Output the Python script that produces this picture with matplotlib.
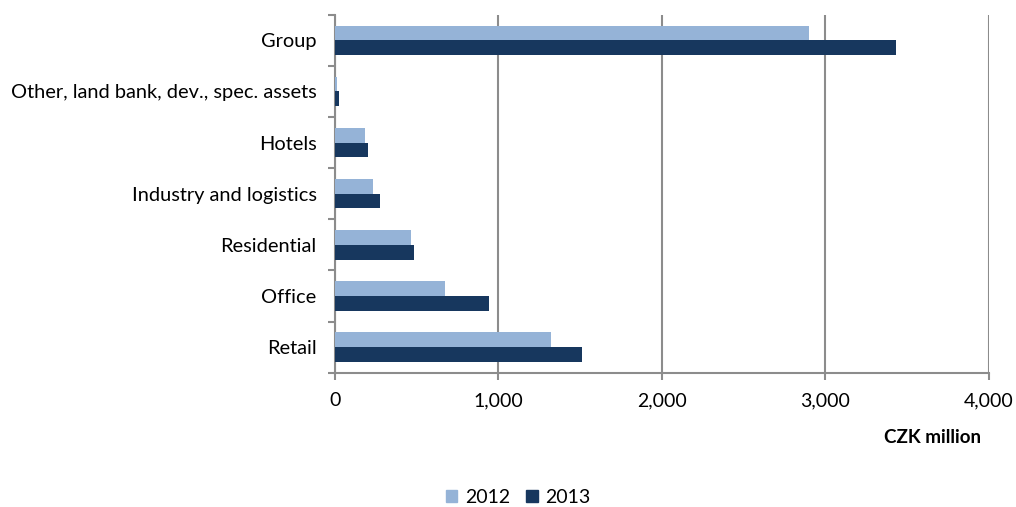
import numpy as np
from matplotlib import pyplot as plt
from matplotlib.patches import Patch

plt.rcParams['font.family'] = ['Lato', 'DejaVu Sans']

# segments listed bottom to top, as barh draws them
segments = ['Retail', 'Office', 'Residential', 'Industry and logistics', 'Hotels',
            'Other, land bank, dev., spec. assets', 'Group']
values_2012 = [1322, 676, 466, 236, 183, 16, 2897]
values_2013 = [1512, 941, 483, 275, 206, 24, 3431]
x_ticks = [0, 1000, 2000, 3000, 4000]

color_2012 = '#95B3D7'
color_2013 = '#17375E'
grid_color = '#8C8C8C'

fig = plt.figure(figsize=(10.16, 5.07), dpi=100)
ax = fig.add_axes([0.3294, 0.2649, 0.6440, 0.7061])

y = np.arange(len(segments))
h = 0.288
ax.barh(y + h / 2, values_2012, height=h, color=color_2012, zorder=3)
ax.barh(y - h / 2, values_2013, height=h, color=color_2013, zorder=3)

ax.set_xlim(0, 4000)
ax.set_ylim(-0.5, len(segments) - 0.5)
ax.set_xticks(x_ticks)
ax.set_xticklabels([f'{v:,}' for v in x_ticks], fontsize=14)
ax.set_yticks(y)
ax.set_yticklabels(segments, fontsize=14.4)
ax.tick_params(axis='y', length=0, pad=13)
ax.tick_params(axis='x', length=5, color=grid_color, width=1.5, pad=9)

# category boundary ticks on the left axis
ax.set_yticks(np.arange(-0.5, len(segments)), minor=True)
ax.tick_params(axis='y', which='minor', length=5, color=grid_color, width=1.5)

ax.xaxis.grid(True, color=grid_color, linewidth=1.5, zorder=0)
ax.set_axisbelow(True)
for side in ['top', 'right']:
    ax.spines[side].set_visible(False)
for side in ['left', 'bottom']:
    ax.spines[side].set_color(grid_color)
    ax.spines[side].set_linewidth(1.5)

fig.text(0.966, 0.138, 'CZK million', fontsize=13.5, fontweight='bold', ha='right', va='center')

handles = [Patch(color=color_2012, label='2012'), Patch(color=color_2013, label='2013')]
fig.legend(handles=handles, loc='center', bbox_to_anchor=(0.51, 0.019), ncol=2,
           frameon=False, fontsize=14, handlelength=0.6, handleheight=0.6,
           handletextpad=0.4, columnspacing=0.8)

fig.savefig('out.png', dpi=100)
